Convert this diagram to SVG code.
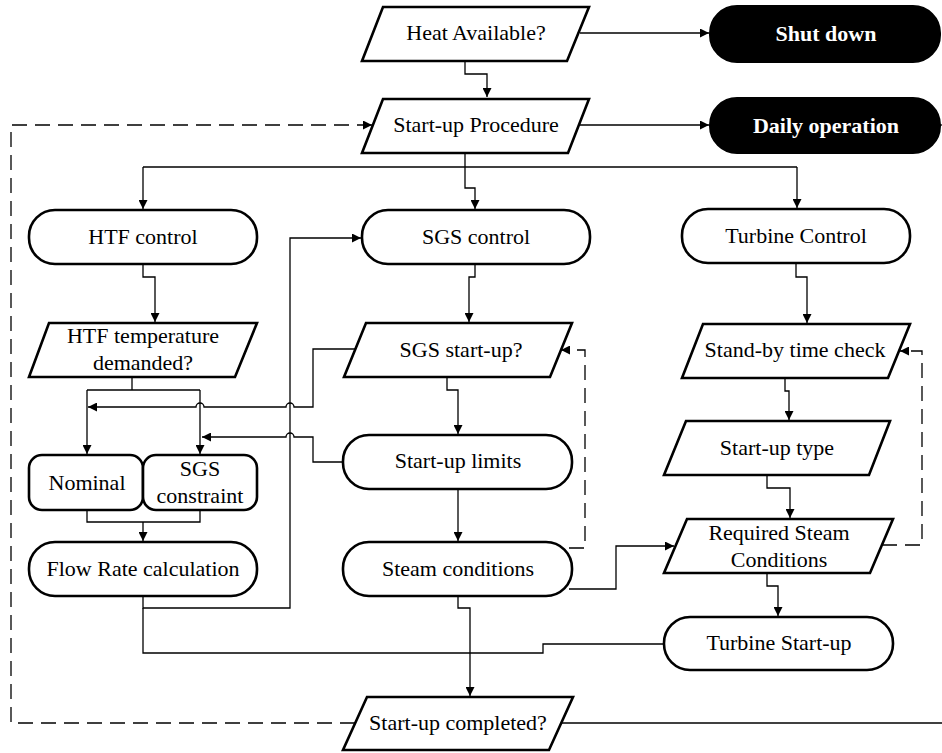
<svg xmlns="http://www.w3.org/2000/svg" width="942" height="753" viewBox="0 0 942 753" font-family="Liberation Serif, DejaVu Serif, serif" font-size="22">
<style>
.n{fill:#fff;stroke:#000;stroke-width:2.6;stroke-linejoin:miter}
.b{fill:#000;stroke:#000;stroke-width:2}
.t{fill:#000;text-anchor:middle}
.w{font-weight:bold;fill:#fff;text-anchor:middle}
.c{fill:none;stroke:#000;stroke-width:1.3}
.d{fill:none;stroke:#000;stroke-width:1.3;stroke-dasharray:15 8}
</style>
<defs>
<marker id="a" viewBox="0 0 10 10" refX="10" refY="5" markerWidth="9" markerHeight="9" markerUnits="userSpaceOnUse" orient="auto">
<path d="M0,0 L10,5 L0,10 Z" fill="#000"/>
</marker>
</defs>
<rect width="942" height="753" fill="#fff"/>
<g id="connectors">
<path class="c" d="M580,33 H709" marker-end="url(#a)"/>
<path class="c" d="M465,61 V74 H487 V97" marker-end="url(#a)"/>
<path class="c" d="M580,125 H709" marker-end="url(#a)"/>
<path class="c" d="M938,125 H942"/>
<path class="d" d="M355,723 H11 V125 H372" marker-end="url(#a)"/>
<path class="c" d="M465,153 V188 H475 V209" marker-end="url(#a)"/>
<path class="c" d="M143,167 H797"/>
<path class="c" d="M143,167 V209" marker-end="url(#a)"/>
<path class="c" d="M797,167 V208" marker-end="url(#a)"/>
<path class="c" d="M143,264 V277 H155 V322" marker-end="url(#a)"/>
<path class="c" d="M475,264 V277 H469 V322" marker-end="url(#a)"/>
<path class="c" d="M796,263 V277 H807 V323" marker-end="url(#a)"/>
<path class="c" d="M132,377 V390"/>
<path class="c" d="M87,390 H200"/>
<path class="c" d="M87,390 V454" marker-end="url(#a)"/>
<path class="c" d="M200,390 V454" marker-end="url(#a)"/>
<path class="c" d="M355,349 H313 V407 H294 A4,4 0 0 0 286,407 H204 A4,4 0 0 0 196,407 H88" marker-end="url(#a)"/>
<path class="c" d="M343,462 H313 V437 H294 A4,4 0 0 0 286,437 H202" marker-end="url(#a)"/>
<path class="c" d="M87,510 V522 H200 V510"/>
<path class="c" d="M143,522 V541" marker-end="url(#a)"/>
<path class="c" d="M143,596 V608 H290 V238 H361" marker-end="url(#a)"/>
<path class="c" d="M143,608 V653 H543 V644 H664"/>
<path class="c" d="M447,377 V390 H458 V434" marker-end="url(#a)"/>
<path class="c" d="M458,489 V541" marker-end="url(#a)"/>
<path class="c" d="M458,596 V608 H470 V696" marker-end="url(#a)"/>
<path class="c" d="M569,589 H616 V546 H674" marker-end="url(#a)"/>
<path class="d" d="M569,548 H585 V350 H561" marker-end="url(#a)"/>
<path class="c" d="M785,378 V391 H789 V420" marker-end="url(#a)"/>
<path class="c" d="M767,475 V488 H790 V518" marker-end="url(#a)"/>
<path class="c" d="M767,573 V586 H778 V616" marker-end="url(#a)"/>
<path class="d" d="M882,545 H922 V351 H900" marker-end="url(#a)"/>
<path class="c" d="M561,723 H942"/>
</g>
<g id="heat">
<polygon class="n" points="383,7 589,7 567,61 362,61"/>
<text class="t" x="476" y="40">Heat Available?</text>
</g>
<g id="shutdown">
<rect class="b" x="710" y="6" width="230" height="56" rx="27"/>
<text class="w" x="826" y="41">Shut down</text>
</g>
<g id="startup">
<polygon class="n" points="383,99 589,99 568,153 362,153"/>
<text class="t" x="476" y="132">Start-up Procedure</text>
</g>
<g id="daily">
<rect class="b" x="710" y="98" width="230" height="55" rx="27"/>
<text class="w" x="826" y="133">Daily operation</text>
</g>
<g id="htfcontrol">
<rect class="n" x="29" y="210" width="228" height="54" rx="26"/>
<text class="t" x="143" y="244">HTF control</text>
</g>
<g id="sgscontrol">
<rect class="n" x="362" y="210" width="228" height="54" rx="26"/>
<text class="t" x="476" y="244">SGS control</text>
</g>
<g id="turbinecontrol">
<rect class="n" x="682" y="209" width="228" height="54" rx="26"/>
<text class="t" x="796" y="243">Turbine Control</text>
</g>
<g id="htftemp">
<polygon class="n" points="49,323 257,323 235,377 29,377"/>
<text class="t" x="143" y="343">HTF temperature</text>
<text class="t" x="143" y="370">demanded?</text>
</g>
<g id="sgsstartup">
<polygon class="n" points="366,323 572,323 550,377 344,377"/>
<text class="t" x="461" y="357">SGS start-up?</text>
</g>
<g id="standby">
<polygon class="n" points="703,324 910,324 888,378 682,378"/>
<text class="t" x="795" y="357">Stand-by time check</text>
</g>
<g id="nominal">
<rect class="n" x="29" y="455" width="114" height="55" rx="13"/>
<text class="t" x="87" y="490">Nominal</text>
</g>
<g id="sgsconstraint">
<rect class="n" x="143" y="455" width="114" height="55" rx="13"/>
<text class="t" x="200" y="476">SGS</text>
<text class="t" x="200" y="503">constraint</text>
</g>
<g id="limits">
<rect class="n" x="343" y="435" width="229" height="54" rx="26"/>
<text class="t" x="458" y="468">Start-up limits</text>
</g>
<g id="startuptype">
<polygon class="n" points="686,421 890,421 869,475 664,475"/>
<text class="t" x="777" y="455">Start-up type</text>
</g>
<g id="flowrate">
<rect class="n" x="29" y="542" width="228" height="54" rx="26"/>
<text class="t" x="143" y="576">Flow Rate calculation</text>
</g>
<g id="steam">
<rect class="n" x="343" y="542" width="229" height="54" rx="26"/>
<text class="t" x="458" y="576">Steam conditions</text>
</g>
<g id="required">
<polygon class="n" points="687,519 893,519 870,573 664,573"/>
<text class="t" x="779" y="540">Required Steam</text>
<text class="t" x="779" y="567">Conditions</text>
</g>
<g id="turbinestartup">
<rect class="n" x="664" y="617" width="229" height="53" rx="26"/>
<text class="t" x="779" y="650">Turbine Start-up</text>
</g>
<g id="completed">
<polygon class="n" points="367,697 573,697 549,750 343,750"/>
<text class="t" x="458" y="730">Start-up completed?</text>
</g>
</svg>
